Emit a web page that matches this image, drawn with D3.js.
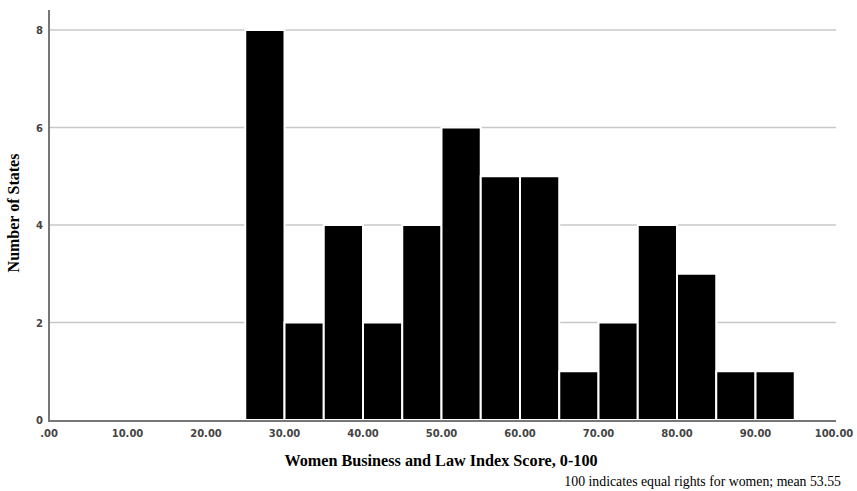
<!DOCTYPE html>
<html>
<head>
<meta charset="utf-8">
<script src="https://cdn.jsdelivr.net/npm/d3@7"></script>
<style>
  body { margin: 0; background: #fff; }
  svg { display: block; }
</style>
</head>
<body>
<svg id="chart-area" width="857" height="491"></svg>
<script>
// histogram bins (lower edge) and counts
var binStarts = [25, 30, 35, 40, 45, 50, 55, 60, 65, 70, 75, 80, 85, 90];
var counts    = [8, 2, 4, 2, 4, 6, 5, 5, 1, 2, 4, 3, 1, 1];
var binWidth = 5;
var xTicks = [0, 10, 20, 30, 40, 50, 60, 70, 80, 90, 100];
var yTicks = [0, 2, 4, 6, 8];

var data = binStarts.map(function(d, i){
    return { x0: d, x1: d + binWidth, n: counts[i] };
});

var svg = d3.select('#chart-area');

var x = d3.scaleLinear().domain([0, 100]).range([49, 834]);
var y = d3.scaleLinear().domain([0, 8]).range([420, 30]);

// gridlines
svg.append('g')
   .selectAll('line')
   .data(yTicks.filter(function(d){ return d > 0; }))
   .enter().append('line')
   .attr('x1', x(0))
   .attr('x2', 836)
   .attr('y1', function(d){ return y(d); })
   .attr('y2', function(d){ return y(d); })
   .attr('stroke', '#c8c8c8')
   .attr('stroke-width', 1.5);

// bars
svg.append('g')
   .selectAll('rect')
   .data(data)
   .enter().append('rect')
   .attr('x', function(d){ return x(d.x0); })
   .attr('y', function(d){ return y(d.n); })
   .attr('width', function(d){ return x(d.x1) - x(d.x0); })
   .attr('height', function(d){ return y(0) - y(d.n); })
   .attr('fill', '#000')
   .attr('stroke', '#fff')
   .attr('stroke-width', 2);

// axes lines
svg.append('line')
   .attr('x1', x(0)).attr('x2', x(0))
   .attr('y1', 10).attr('y2', y(0) + 1)
   .attr('stroke', '#777').attr('stroke-width', 2);
svg.append('line')
   .attr('x1', x(0) - 1).attr('x2', 836)
   .attr('y1', y(0) + 1).attr('y2', y(0) + 1)
   .attr('stroke', '#777').attr('stroke-width', 2);

// y tick labels
svg.append('g')
   .selectAll('text')
   .data(yTicks)
   .enter().append('text')
   .attr('x', 43)
   .attr('y', function(d){ return y(d) + 4; })
   .attr('text-anchor', 'end')
   .attr('font-family', 'DejaVu Sans, sans-serif')
   .attr('font-size', 10)
   .attr('font-weight', 'bold')
   .attr('fill', '#444')
   .text(function(d){ return d; });

// x tick labels
svg.append('g')
   .selectAll('text')
   .data(xTicks)
   .enter().append('text')
   .attr('x', function(d){ return x(d); })
   .attr('y', 437)
   .attr('text-anchor', 'middle')
   .attr('font-family', 'DejaVu Sans, sans-serif')
   .attr('font-size', 10)
   .attr('font-weight', 'bold')
   .attr('fill', '#444')
   .text(function(d){ return d === 0 ? '.00' : d3.format('.2f')(d); });

// axis titles
svg.append('text')
   .attr('transform', 'translate(19,213) rotate(-90)')
   .attr('text-anchor', 'middle')
   .attr('font-family', 'Liberation Serif, Times New Roman, serif')
   .attr('font-size', 16)
   .attr('font-weight', 'bold')
   .text('Number of States');

svg.append('text')
   .attr('x', 441)
   .attr('y', 466)
   .attr('text-anchor', 'middle')
   .attr('font-family', 'Liberation Serif, Times New Roman, serif')
   .attr('font-size', 16.2)
   .attr('font-weight', 'bold')
   .text('Women Business and Law Index Score, 0-100');

svg.append('text')
   .attr('x', 841)
   .attr('y', 486)
   .attr('text-anchor', 'end')
   .attr('font-family', 'Liberation Serif, Times New Roman, serif')
   .attr('font-size', 13.8)
   .text('100 indicates equal rights for women; mean 53.55');
</script>
</body>
</html>
